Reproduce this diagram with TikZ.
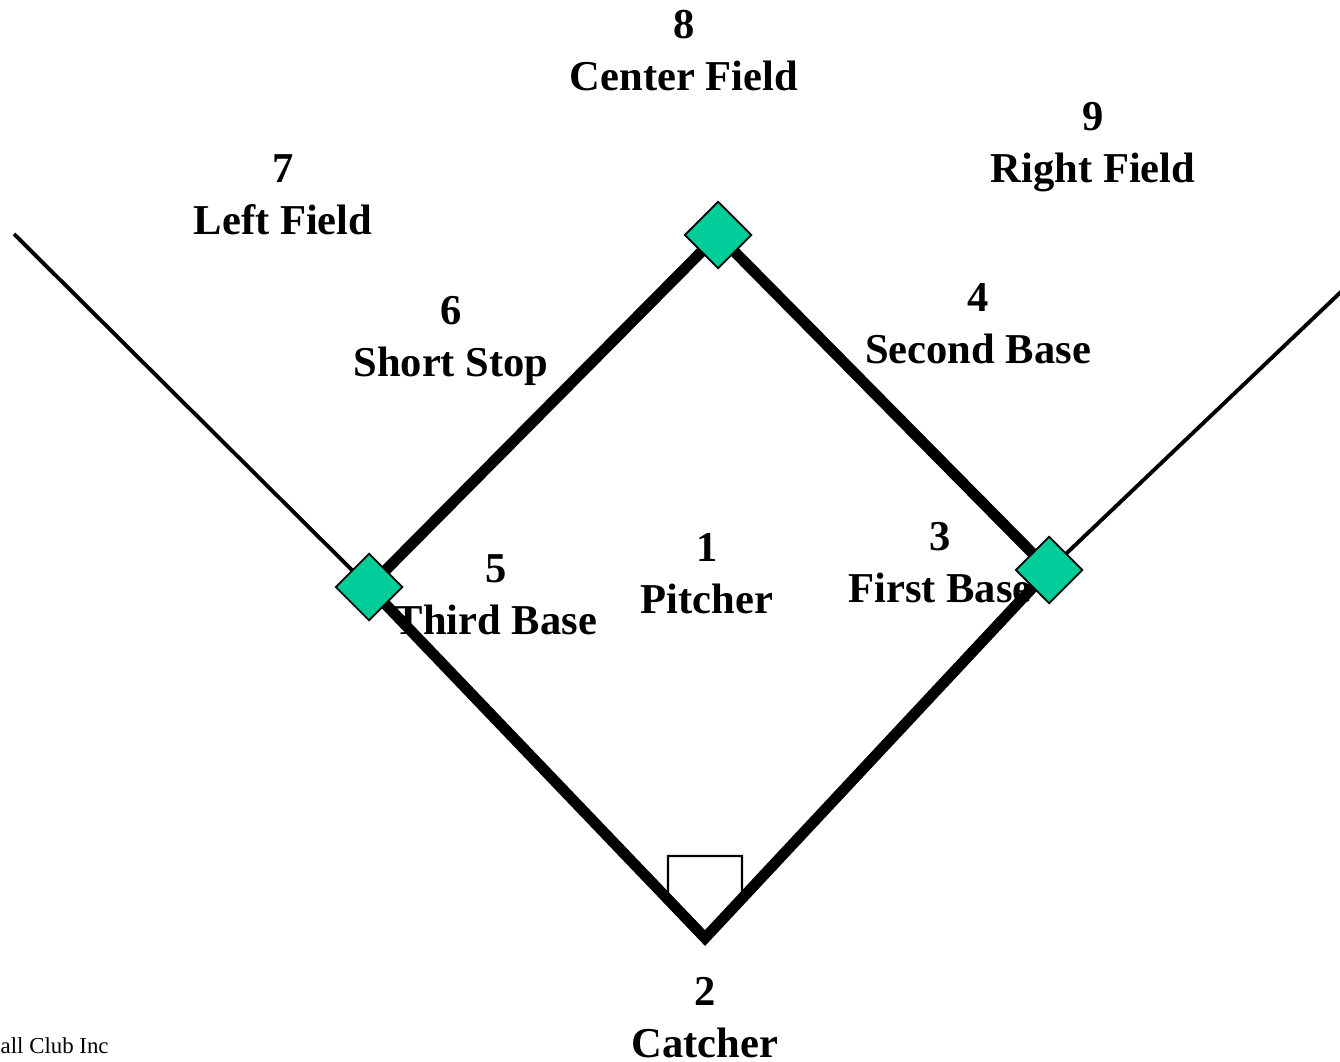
\documentclass[tikz,border=0pt]{standalone}
\usepackage{fontspec}
\setmainfont{Liberation Serif}
\definecolor{basegreen}{RGB}{0,204,153}

\begin{document}
\begin{tikzpicture}[x=0.01cm, y=-0.01cm,
	lbl/.style={align=center, font=\fontsize{12.1}{14.8}\selectfont\bfseries, inner sep=0pt},
	basebag/.style={draw, fill=basegreen, line width=0.5pt, rectangle, rotate=45, minimum size=0.47cm, inner sep=0pt},
	baseline/.style={line width=3.1pt, line join=miter},
	foul/.style={line width=1.1pt}]
	\useasboundingbox (0,0) rectangle (1340,1061);
	% positions
	\coordinate (home) at (705,938);
	\coordinate (third) at (369,587);
	\coordinate (second) at (718,235);
	\coordinate (first) at (1049,570);
	\coordinate (leftend) at (14,234);
	\coordinate (rightend) at (1345,288);
	% labels
	\node[lbl] (cf) at (684,51) {8\\Center Field};
	\node[lbl] (rf) at (1093,147) {9\\Right Field};
	\node[lbl] (lf) at (283,195) {7\\Left Field};
	\node[lbl] (ss) at (451,341) {6\\Short Stop};
	\node[lbl] (sb) at (978,324) {4\\Second Base};
	\node[lbl] (tb) at (496,595) {5\\Third Base};
	\node[lbl] (p) at (707,574) {1\\Pitcher};
	\node[lbl] (fb) at (940,563) {3\\First Base};
	\node[lbl] (c) at (705,1018) {2\\Catcher};
	\node[anchor=west, inner sep=0pt, font=\fontsize{6.5}{8}\selectfont] (club) at (0,1046) {all Club Inc};
	% home plate
	\draw[line width=0.7pt, fill=white] (668,898) -- (668,856) -- (742,856) -- (742,898) -- (home) -- cycle;
	% foul lines
	\draw[foul] (third) -- (leftend);
	\draw[foul] (first) -- (rightend);
	% infield
	\draw[baseline] (third) -- (home) -- (first);
	\draw[baseline] (third) -- (second) -- (first);
	% bases
	\node[basebag] (b3) at (third) {};
	\node[basebag] (b2) at (second) {};
	\node[basebag] (b1) at (first) {};
\end{tikzpicture}
\end{document}
